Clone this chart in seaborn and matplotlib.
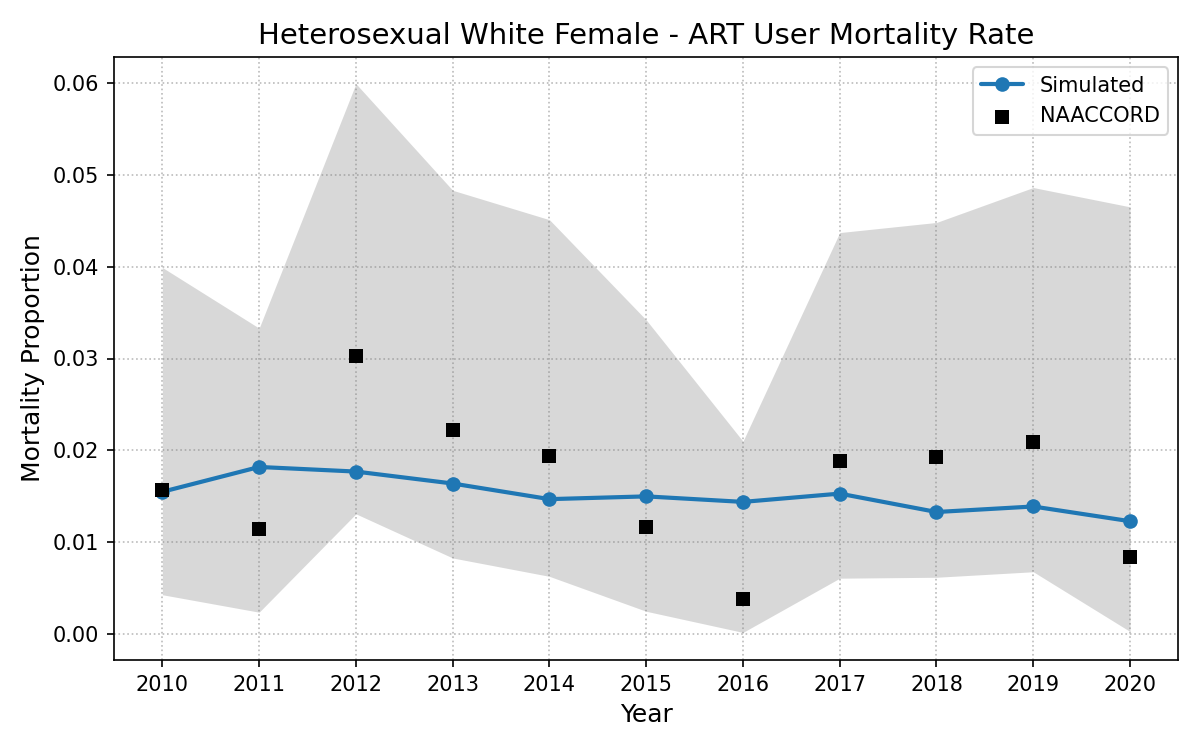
import numpy as np
import pandas as pd
import matplotlib
matplotlib.use('Agg')
import matplotlib.pyplot as plt
import seaborn as sns

# ── data ──────────────────────────────────────────────────────────
years = [2010, 2011, 2012, 2013, 2014, 2015, 2016, 2017, 2018, 2019, 2020]
sim_mean = [0.0155, 0.0182, 0.0177, 0.0164, 0.0147, 0.0150, 0.0144, 0.0153, 0.0133, 0.0139, 0.0123]
sim_upper = [0.0399, 0.0333, 0.0599, 0.0483, 0.0451, 0.0342, 0.0210, 0.0437, 0.0448, 0.0486, 0.0465]
sim_lower = [0.0043, 0.0024, 0.0131, 0.0083, 0.0063, 0.0025, 0.0002, 0.0061, 0.0062, 0.0068, 0.0003]
naaccord = [0.0157, 0.0114, 0.0303, 0.0222, 0.0194, 0.0117, 0.0038, 0.0188, 0.0193, 0.0209, 0.0084]

sim = pd.DataFrame({'year': years, 'mean': sim_mean, 'lower': sim_lower, 'upper': sim_upper})
obs = pd.DataFrame({'year': years, 'prop': naaccord})

sns.set_style('ticks', {'axes.edgecolor': 'black', 'text.color': 'black',
                        'axes.labelcolor': 'black', 'xtick.color': 'black',
                        'ytick.color': 'black'})
plt.rcParams['font.family'] = ['DejaVu Sans']

fig, ax = plt.subplots(figsize=(8, 5), dpi=150)

ax.fill_between(sim['year'], sim['lower'], sim['upper'], color='gray', alpha=0.3, linewidth=0)
sns.lineplot(data=sim, x='year', y='mean', marker='o', color='#1f77b4', linewidth=2,
             markersize=7, markeredgewidth=0, label='Simulated', ax=ax)
sns.scatterplot(data=obs, x='year', y='prop', marker='s', color='black', s=45,
                linewidth=0, label='NAACCORD', ax=ax, zorder=3)

ax.set_xticks(years)
ax.set_yticks([0.0, 0.01, 0.02, 0.03, 0.04, 0.05, 0.06])
ax.set_xlim(2009.5, 2020.5)
ax.set_ylim(-0.0028, 0.0628)
ax.grid(True, linestyle=':', color='#bbbbbb', linewidth=0.8)
ax.set_axisbelow(True)

ax.set_title('Heterosexual White Female - ART User Mortality Rate', fontsize=14)
ax.set_xlabel('Year', fontsize=12)
ax.set_ylabel('Mortality Proportion', fontsize=12)
ax.tick_params(labelsize=10)
ax.legend(loc='upper right', fontsize=10)

plt.subplots_adjust(left=0.095, right=0.982, top=0.924, bottom=0.12)
plt.savefig('out.png', dpi=150)
plt.close()
